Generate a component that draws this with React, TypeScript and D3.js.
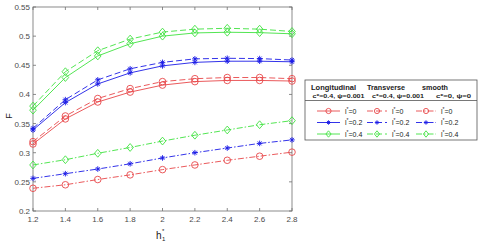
import React from "react";
import * as d3 from "d3";

const hValues = [1.2, 1.4, 1.6, 1.8, 2.0, 2.2, 2.4, 2.6, 2.8];
const xTicks = [1.2, 1.4, 1.6, 1.8, 2, 2.2, 2.4, 2.6, 2.8];
const yTicks = [0.2, 0.25, 0.3, 0.35, 0.4, 0.45, 0.5, 0.55];

// Longitudinal (solid)
const longL0 = [0.315, 0.358, 0.387, 0.404, 0.416, 0.422, 0.424, 0.424, 0.423];
const longL02 = [0.339, 0.386, 0.418, 0.437, 0.449, 0.455, 0.457, 0.457, 0.456];
const longL04 = [0.373, 0.429, 0.466, 0.487, 0.5, 0.5055, 0.5067, 0.506, 0.504];
// Transverse (dashed)
const transL0 = [0.319, 0.363, 0.393, 0.41, 0.422, 0.427, 0.429, 0.429, 0.427];
const transL02 = [0.342, 0.391, 0.425, 0.444, 0.455, 0.461, 0.462, 0.4615, 0.459];
const transL04 = [0.38, 0.439, 0.475, 0.495, 0.507, 0.512, 0.5135, 0.512, 0.508];
// smooth (dash-dot)
const smoothL0 = [0.239, 0.245, 0.254, 0.262, 0.271, 0.279, 0.287, 0.294, 0.301];
const smoothL02 = [0.256, 0.264, 0.272, 0.281, 0.291, 0.3, 0.308, 0.316, 0.322];
const smoothL04 = [0.279, 0.288, 0.299, 0.309, 0.32, 0.33, 0.339, 0.348, 0.355];

const lLabels = ["0", "0.2", "0.4"];
const colors = ["#e8474a", "#1c1ce6", "#3fe23f"];
const markers = ["circle", "asterisk", "diamond"];
const styles = ["solid", "dashed", "dashdot"];
const dashArray: Record<string, string | undefined> = {
  solid: undefined,
  dashed: "6,3",
  dashdot: "6,2,1.5,2",
};

const series = [
  { values: longL0, l: 0, style: "solid" },
  { values: longL02, l: 1, style: "solid" },
  { values: longL04, l: 2, style: "solid" },
  { values: transL0, l: 0, style: "dashed" },
  { values: transL02, l: 1, style: "dashed" },
  { values: transL04, l: 2, style: "dashed" },
  { values: smoothL0, l: 0, style: "dashdot" },
  { values: smoothL02, l: 1, style: "dashdot" },
  { values: smoothL04, l: 2, style: "dashdot" },
];

const margin = { left: 33, top: 7, right: 292, bottom: 211 };

function Marker({ type, x, y, color, r = 3.3 }: { type: string; x: number; y: number; color: string; r?: number }) {
  if (type === "circle") {
    return <circle cx={x} cy={y} r={r} fill="none" stroke={color} strokeWidth={0.9} />;
  }
  if (type === "diamond") {
    return (
      <path
        d={`M${x},${y - r - 0.6}L${x + r},${y}L${x},${y + r + 0.6}L${x - r},${y}Z`}
        fill="none"
        stroke={color}
        strokeWidth={0.9}
      />
    );
  }
  const a = r * 0.85;
  const d = a * 0.7;
  return (
    <path
      d={`M${x - a},${y}L${x + a},${y}M${x},${y - a}L${x},${y + a}M${x - d},${y - d}L${x + d},${y + d}M${x - d},${y + d}L${x + d},${y - d}`}
      stroke={color}
      strokeWidth={0.9}
    />
  );
}

export default function App() {
  const x = d3.scaleLinear().domain([1.2, 2.8]).range([margin.left, margin.right]);
  const y = d3.scaleLinear().domain([0.2, 0.55]).range([margin.bottom, margin.top]);
  const line = d3
    .line<number>()
    .x((_, i) => x(hValues[i]))
    .y((d) => y(d));

  const axisColor = "#6e6e6e";
  const textColor = "#4a4a4a";
  const font = "Liberation Sans, Arial, sans-serif";

  // legend layout
  const lg = { x: 305, y: 80, w: 172, h: 60 };
  const colX = [317, 367, 416];
  const rowY = [111, 122.5, 134];

  return (
    <svg width={480} height={246} style={{ position: "absolute", left: 0, top: 0 }} fontFamily={font}>
      <rect x={0} y={0} width={480} height={246} fill="#fff" />
      {/* axes box */}
      <rect
        x={margin.left}
        y={margin.top}
        width={margin.right - margin.left}
        height={margin.bottom - margin.top}
        fill="none"
        stroke={axisColor}
        strokeWidth={0.8}
      />
      {xTicks.map((t) => (
        <g key={"x" + t}>
          <line x1={x(t)} x2={x(t)} y1={margin.bottom} y2={margin.bottom - 3} stroke={axisColor} strokeWidth={0.8} />
          <line x1={x(t)} x2={x(t)} y1={margin.top} y2={margin.top + 3} stroke={axisColor} strokeWidth={0.8} />
          <text x={x(t)} y={margin.bottom + 11} fontSize={8} fill={textColor} textAnchor="middle">
            {t}
          </text>
        </g>
      ))}
      {yTicks.map((t) => (
        <g key={"y" + t}>
          <line x1={margin.left} x2={margin.left + 3} y1={y(t)} y2={y(t)} stroke={axisColor} strokeWidth={0.8} />
          <line x1={margin.right} x2={margin.right - 3} y1={y(t)} y2={y(t)} stroke={axisColor} strokeWidth={0.8} />
          <text x={margin.left - 3} y={y(t) + 3} fontSize={8} fill={textColor} textAnchor="end">
            {t}
          </text>
        </g>
      ))}
      <text x={12} y={116} fontSize={9} fill="#222" textAnchor="middle" transform="rotate(-90,12,116)">
        F
      </text>
      <text x={156} y={239} fontSize={10} fill="#222">h</text>
      <text x={162} y={233} fontSize={6} fill="#222">*</text>
      <text x={162} y={241} fontSize={6} fill="#222">1</text>

      {/* series */}
      {series.map((s, i) => (
        <g key={i}>
          <path
            d={line(s.values) || ""}
            fill="none"
            stroke={colors[s.l]}
            strokeWidth={0.9}
            strokeDasharray={dashArray[s.style]}
          />
          {s.values.map((v, j) => (
            <Marker key={j} type={markers[s.l]} x={x(hValues[j])} y={y(v)} color={colors[s.l]} />
          ))}
        </g>
      ))}

      {/* legend */}
      <rect x={lg.x} y={lg.y} width={lg.w} height={lg.h} fill="#fff" stroke="#555" strokeWidth={0.8} />
      <line x1={lg.x} x2={lg.x + lg.w} y1={100.5} y2={100.5} stroke="#555" strokeWidth={0.8} />
      <g fontSize={6.5} fontWeight="bold" fill="#222">
        <text x={311} y={89.5} textLength={45} lengthAdjust="spacingAndGlyphs">Longitudinal</text>
        <text x={367} y={89.5} textLength={38} lengthAdjust="spacingAndGlyphs">Transverse</text>
        <text x={422} y={89.5} textLength={26} lengthAdjust="spacingAndGlyphs">smooth</text>
        <text x={312.5} y={97.5} fontSize={6} textLength={52} lengthAdjust="spacingAndGlyphs">c*=0.4, ψ=0.001</text>
        <text x={372} y={97.5} fontSize={6} textLength={52} lengthAdjust="spacingAndGlyphs">c*=0.4, ψ=0.001</text>
        <text x={436} y={97.5} fontSize={6} textLength={35} lengthAdjust="spacingAndGlyphs">c*=0, ψ=0</text>
      </g>
      {styles.map((st, c) =>
        lLabels.map((lab, r) => {
          const x0 = colX[c];
          const x1 = c === 0 ? x0 + 23 : x0 + 20;
          const yy = rowY[r];
          return (
            <g key={st + r}>
              <line
                x1={x0}
                x2={x1}
                y1={yy}
                y2={yy}
                stroke={colors[r]}
                strokeWidth={0.9}
                strokeDasharray={dashArray[st]}
              />
              <Marker type={markers[r]} x={(x0 + x1) / 2} y={yy} color={colors[r]} r={2.6} />
              <text x={x1 + 5} y={yy + 2.5} fontSize={7} fill="#222">
                l<tspan fontSize={5} dy={-3}>*</tspan>
                <tspan dy={3}>={lab}</tspan>
              </text>
            </g>
          );
        })
      )}
    </svg>
  );
}
